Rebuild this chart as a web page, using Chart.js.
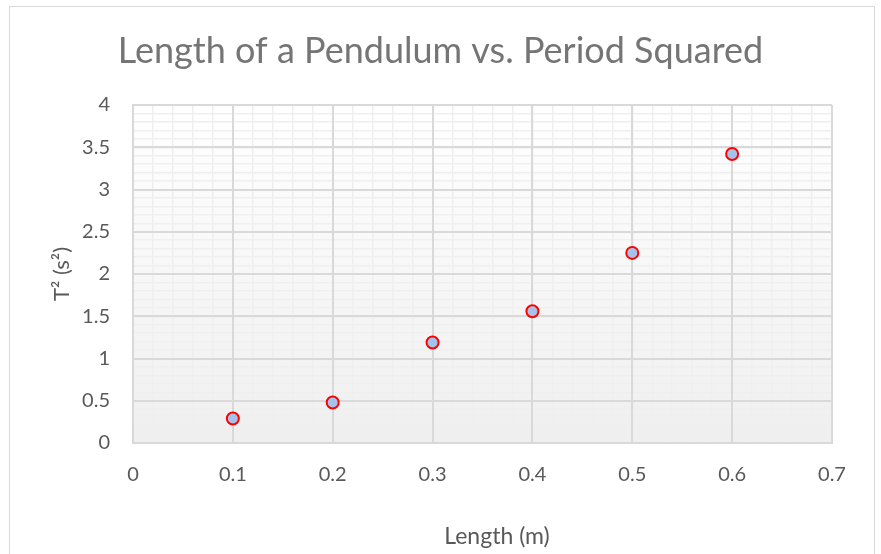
<!DOCTYPE html>
<html>
<head>
<meta charset="utf-8">
<script src="https://cdn.jsdelivr.net/npm/chart.js@4"></script>
<style>
  html, body { margin: 0; padding: 0; background: #fff; }
  #wrap { position: relative; width: 881px; height: 554px; overflow: hidden; }
  #frame { position: absolute; left: 9px; top: 6px; width: 866px; height: 600px; border: 1px solid #d9d9d9; box-sizing: border-box; }
  #chart { position: absolute; left: 0; top: 0; }
</style>
</head>
<body>
<div id="wrap">
  <div id="frame"></div>
  <canvas id="chart" width="881" height="554"></canvas>
</div>
<script>
const chartTitle = 'Length of a Pendulum vs. Period Squared';
const xTitle = 'Length (m)';
const yTitle = 'T\u00b2 (s\u00b2)';
const lengths = [0.1, 0.2, 0.3, 0.4, 0.5, 0.6];
const periodSquared = [0.29, 0.48, 1.19, 1.56, 2.25, 3.42];
const xTicks = [0, 0.1, 0.2, 0.3, 0.4, 0.5, 0.6, 0.7];
const yTicks = [0, 0.5, 1, 1.5, 2, 2.5, 3, 3.5, 4];

const fontFamily = 'Lato, "Open Sans", sans-serif';

function isMajor(v, list) {
  return list.some(t => Math.abs(t - v) < 1e-6);
}

// plot area fill, white fading to light grey
const plotBg = {
  id: 'plotBg',
  beforeDraw(chart) {
    const { ctx, chartArea } = chart;
    const g = ctx.createLinearGradient(0, chartArea.top, 0, chartArea.bottom);
    g.addColorStop(0, '#ffffff');
    g.addColorStop(1, '#efefef');
    ctx.save();
    ctx.fillStyle = g;
    ctx.fillRect(chartArea.left, chartArea.top, chartArea.right - chartArea.left, chartArea.bottom - chartArea.top);
    ctx.restore();
  }
};

// x axis title sits a bit right of the plot centre, like Excel puts it
const xAxisTitle = {
  id: 'xAxisTitle',
  afterDraw(chart) {
    const { ctx, chartArea } = chart;
    ctx.save();
    ctx.font = '23px ' + fontFamily;
    ctx.fillStyle = '#595959';
    ctx.textAlign = 'center';
    ctx.textBaseline = 'middle';
    ctx.fillText(xTitle, (chartArea.left + chartArea.right) / 2 + 14.5, 537);
    ctx.restore();
  }
};

// minor grid lives on its own hidden scales so it is drawn under the major grid
function minorScale(axis, min, max, step) {
  return {
    type: 'linear',
    axis: axis,
    position: axis === 'x' ? 'bottom' : 'left',
    min: min,
    max: max,
    z: -1,
    afterFit(scale) { if (axis === 'x') scale.height = 0; else scale.width = 0; },
    ticks: { display: false, stepSize: step, autoSkip: false },
    grid: { drawTicks: false, color: '#efefef', lineWidth: 1.5 },
    border: { display: false }
  };
}

const ctx = document.getElementById('chart').getContext('2d');
const chart = new Chart(ctx, {
  type: 'scatter',
  data: {
    datasets: [{
      data: lengths.map((x, i) => ({ x: x, y: periodSquared[i] })),
      backgroundColor: '#a6c2e8',
      borderColor: '#ff0000',
      borderWidth: 2,
      pointRadius: 6,
      pointHoverRadius: 6
    }]
  },
  options: {
    responsive: false,
    animation: false,
    layout: { padding: { left: 49, right: 49, top: 0, bottom: 4 } },
    plugins: {
      legend: { display: false },
      tooltip: { enabled: false },
      title: {
        display: true,
        text: chartTitle,
        color: '#757575',
        font: { family: fontFamily, size: 36, weight: 'normal' },
        padding: { top: 30, bottom: 31.8 }
      }
    },
    scales: {
      xMinor: minorScale('x', 0, 0.7, 0.02),
      yMinor: minorScale('y', 0, 4, 0.1),
      x: {
        type: 'linear',
        min: 0,
        max: 0.7,
        afterFit(scale) { scale.height = 107; },
        ticks: {
          stepSize: 0.1,
          autoSkip: false,
          maxRotation: 0,
          padding: 20,
          color: '#595959',
          font: { family: fontFamily, size: 20 },
          callback: v => String(Number(v.toFixed(1)))
        },
        grid: { drawTicks: false, lineWidth: 2, color: '#d9d9d9' },
        border: { display: true, color: '#d9d9d9', width: 2 }
      },
      y: {
        type: 'linear',
        min: 0,
        max: 4,
        afterFit(scale) { scale.width = 84; },
        ticks: {
          stepSize: 0.5,
          autoSkip: false,
          padding: 23,
          color: '#595959',
          font: { family: fontFamily, size: 20 },
          callback: v => String(Number(v.toFixed(1)))
        },
        grid: { drawTicks: false, lineWidth: 2, color: '#d9d9d9' },
        border: { display: true, color: '#d9d9d9', width: 2 },
        title: {
          display: true,
          text: yTitle,
          color: '#595959',
          padding: 0,
          font: { family: fontFamily, size: 22 }
        }
      }
    }
  },
  plugins: [plotBg, xAxisTitle]
});
</script>
</body>
</html>
